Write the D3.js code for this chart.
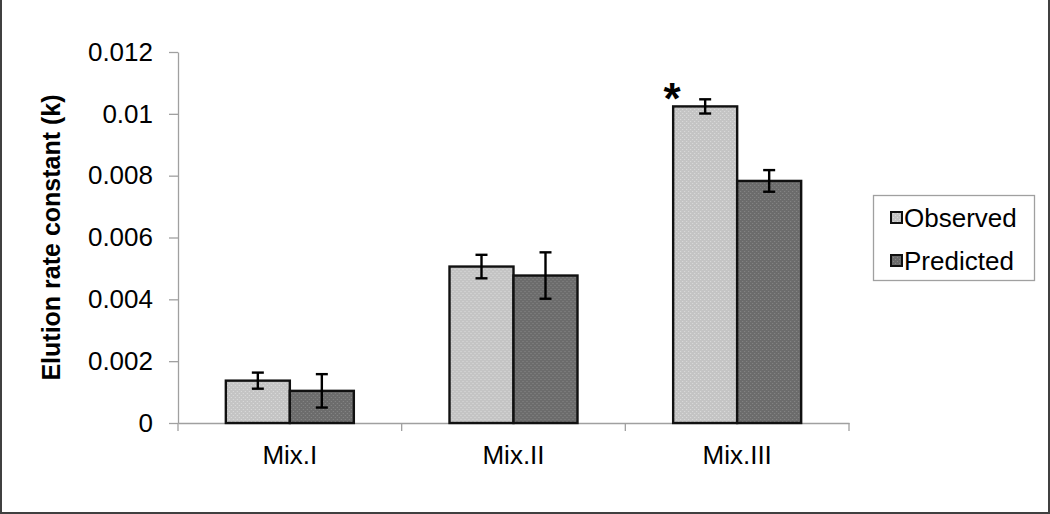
<!DOCTYPE html>
<html><head><meta charset="utf-8">
<script src="https://cdn.jsdelivr.net/npm/d3@7/dist/d3.min.js"></script>
<style>html,body{margin:0;padding:0;background:#fff;}svg{display:block;font-family:"Liberation Sans",Arial,sans-serif;}</style>
</head><body><div id="chart"></div>
<script>
const categories = ["Mix.I", "Mix.II", "Mix.III"];
const seriesNames = ["Observed", "Predicted"];
const observed = [0.00137, 0.00506, 0.01024];
const observedErr = [0.00026, 0.00038, 0.00023];
const predicted = [0.00104, 0.00477, 0.00783];
const predictedErr = [0.00054, 0.00075, 0.00035];
const yTicks = [0, 0.002, 0.004, 0.006, 0.008, 0.01, 0.012];
const yTickLabels = ["0", "0.002", "0.004", "0.006", "0.008", "0.01", "0.012"];
const significant = [false, false, true];

const W = 1050, H = 514;
const margin = {left: 178, right: 1050 - 849, top: 52, bottom: 514 - 423};
const svg = d3.select("#chart").append("svg").attr("width", W).attr("height", H);

const defs = svg.append("defs");
function pat(id, base, dot) {
  const p = defs.append("pattern").attr("id", id).attr("width", 4).attr("height", 4).attr("patternUnits", "userSpaceOnUse");
  p.append("rect").attr("width", 4).attr("height", 4).attr("fill", base);
  p.append("rect").attr("x", 1).attr("y", 1).attr("width", 1).attr("height", 1).attr("fill", dot);
  p.append("rect").attr("x", 3).attr("y", 3).attr("width", 1).attr("height", 1).attr("fill", dot);
}
pat("pObs", "#c4c4c4", "#dcdcdc");
pat("pPred", "#6c6c6c", "#888888");
const fills = ["url(#pObs)", "url(#pPred)"];

// outer frame
svg.append("path").attr("d", `M1,0 V${H-1} H${W-1} V0`).attr("fill", "none").attr("stroke", "#404040").attr("stroke-width", 2);

const x0 = d3.scaleBand().domain(categories).range([margin.left, W - margin.right]).paddingInner(0).paddingOuter(0);
const x1 = d3.scaleBand().domain(seriesNames).range([0, 128]);
const y = d3.scaleLinear().domain([0, 0.012]).range([H - margin.bottom, margin.top]);

const FS = 26;
// y axis
const yAxis = d3.axisLeft(y).tickValues(yTicks).tickFormat((d, i) => yTickLabels[i]).tickSize(9).tickSizeOuter(0).tickPadding(16);
const gy = svg.append("g").attr("transform", `translate(${margin.left},0)`).call(yAxis);
gy.select(".domain").attr("stroke", "#a0a0a0").attr("stroke-width", 1.3);
gy.selectAll(".tick line").attr("stroke", "#a0a0a0").attr("stroke-width", 1.3);
gy.selectAll(".tick text").attr("font-size", FS).attr("fill", "#000").attr("font-family", "Liberation Sans, Arial, sans-serif");

// x axis
const xAxis = d3.axisBottom(x0).tickSize(0).tickPadding(23);
const gx = svg.append("g").attr("transform", `translate(0,${y(0)})`).call(xAxis);
gx.select(".domain").attr("stroke", "#a0a0a0").attr("stroke-width", 1.3);
gx.selectAll(".tick text").attr("font-size", FS).attr("fill", "#000").attr("dy", "0.71em").attr("font-family", "Liberation Sans, Arial, sans-serif");
// boundary ticks
const bounds = categories.map(c => x0(c)).concat([x0(categories[categories.length-1]) + x0.bandwidth()]);
gx.selectAll(".bt").data(bounds).enter().append("line")
  .attr("x1", d => d).attr("x2", d => d).attr("y1", 0).attr("y2", 8)
  .attr("stroke", "#a0a0a0").attr("stroke-width", 1.3);

// bars
const data = categories.map((c, i) => ({c, vals: [
  {s: seriesNames[0], v: observed[i], e: observedErr[i], k: 0},
  {s: seriesNames[1], v: predicted[i], e: predictedErr[i], k: 1}
]}));
const groups = svg.selectAll(".grp").data(data).enter().append("g")
  .attr("transform", d => `translate(${x0(d.c) + (x0.bandwidth() - 128) / 2},0)`);
groups.selectAll("rect").data(d => d.vals).enter().append("rect")
  .attr("x", d => x1(d.s)).attr("width", x1.bandwidth())
  .attr("y", d => y(d.v)).attr("height", d => y(0) - y(d.v))
  .attr("fill", d => fills[d.k]).attr("stroke", "#111").attr("stroke-width", 2.4);

// error bars
const eb = groups.selectAll(".eb").data(d => d.vals).enter().append("g");
eb.append("line").attr("x1", d => x1(d.s) + x1.bandwidth()/2).attr("x2", d => x1(d.s) + x1.bandwidth()/2)
  .attr("y1", d => y(d.v + d.e)).attr("y2", d => y(d.v - d.e)).attr("stroke", "#000").attr("stroke-width", 2.4);
eb.selectAll(".cap").data(d => [{d, v: d.v + d.e}, {d, v: d.v - d.e}]).enter().append("line")
  .attr("x1", o => x1(o.d.s) + x1.bandwidth()/2 - 6).attr("x2", o => x1(o.d.s) + x1.bandwidth()/2 + 6)
  .attr("y1", o => y(o.v)).attr("y2", o => y(o.v)).attr("stroke", "#000").attr("stroke-width", 2.4);

// significance asterisk
groups.filter((d, i) => significant[i]).append("text")
  .attr("x", x1(seriesNames[0]) - 1).attr("y", d => y(d.vals[0].v + d.vals[0].e) + 15)
  .attr("text-anchor", "middle").attr("font-size", 44).attr("font-weight", "bold").text("*");

// y title
svg.append("text").attr("transform", `translate(${60},${(y(0)+y(0.012))/2}) rotate(-90)`)
  .attr("text-anchor", "middle").attr("font-size", 25).attr("font-weight", "bold").attr("fill", "#000").text("Elution rate constant (k)");

// legend
const lg = svg.append("g");
lg.append("rect").attr("x", 873.5).attr("y", 195.5).attr("width", 161).attr("height", 85).attr("fill", "#fff").attr("stroke", "#a0a0a0").attr("stroke-width", 1.3);
seriesNames.forEach((s, i) => {
  const yy = 218 + i * 43;
  lg.append("rect").attr("x", 891).attr("y", yy - 6).attr("width", 11).attr("height", 11)
    .attr("fill", fills[i]).attr("stroke", "#111").attr("stroke-width", 2);
  lg.append("text").attr("x", 904).attr("y", yy).attr("dy", "0.35em").attr("font-size", FS).attr("fill", "#000").text(s);
});
</script></body></html>
